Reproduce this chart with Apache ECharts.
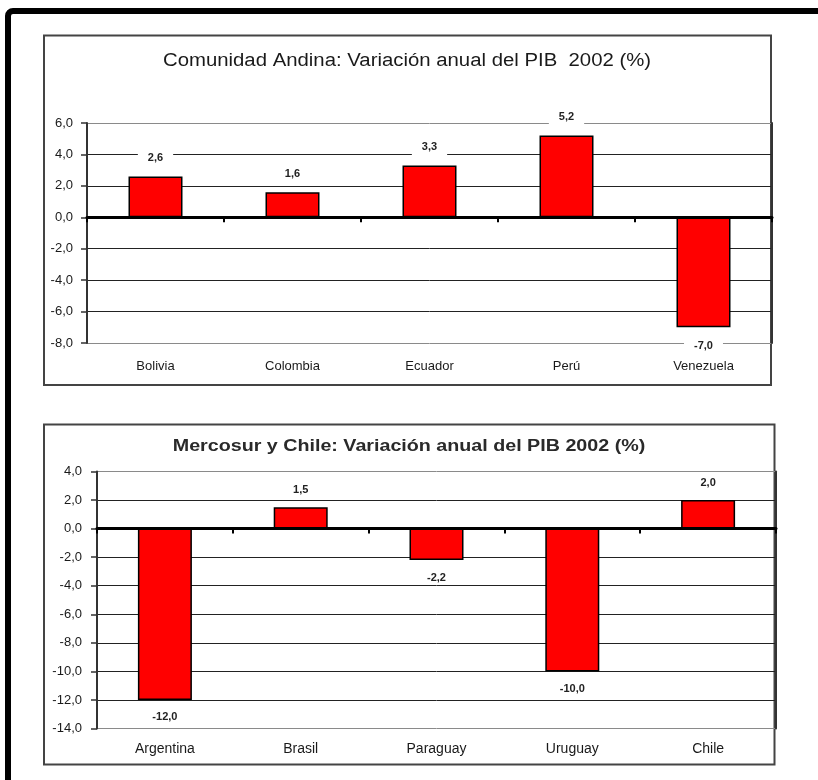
<!DOCTYPE html>
<html>
<head>
<meta charset="utf-8">
<script src="https://cdn.jsdelivr.net/npm/echarts@6/dist/echarts.min.js"></script>
<style>
  html, body { margin: 0; padding: 0; background: #fff; }
  #chart { width: 818px; height: 780px; }
</style>
</head>
<body>
<div id="chart"></div>
<script>
// Comunidad Andina: GDP change 2002 (%)
const andinaCategories = ['Bolivia', 'Colombia', 'Ecuador', 'Perú', 'Venezuela'];
const andinaValues = [2.6, 1.6, 3.3, 5.2, -7.0];
const andinaTicks = [-8, -6, -4, -2, 0, 2, 4, 6];
const andinaTitle = 'Comunidad Andina: Variación anual del PIB  2002 (%)';

// Mercosur and Chile: GDP change 2002 (%)
const mercoCategories = ['Argentina', 'Brasil', 'Paraguay', 'Uruguay', 'Chile'];
const mercoValues = [-12.0, 1.5, -2.2, -10.0, 2.0];
const mercoTicks = [-14, -12, -10, -8, -6, -4, -2, 0, 2, 4];
const mercoTitle = 'Mercosur y Chile: Variación anual del PIB 2002 (%)';

const FONT = '"Liberation Sans", Arial, sans-serif';
const comma = v => Number(v).toFixed(1).replace('.', ',');

// grid line shades: outer lines lighter, inner lines dark
function lineShades(ticks) {
  return ticks.map((t, i) => (i === 0 || i === ticks.length - 1) ? '#8a8a8a' : '#222');
}

function valueAxes(gridIndex, ticks, labelMargin) {
  const base = {
    type: 'value',
    gridIndex: gridIndex,
    min: ticks[0],
    max: ticks[ticks.length - 1],
    interval: ticks[1] - ticks[0]
  };
  return [
    Object.assign({}, base, {
      position: 'left',
      axisLine: { show: true, lineStyle: { color: '#333', width: 2 } },
      axisTick: { show: true, length: 6, lineStyle: { color: '#333', width: 1.5 } },
      axisLabel: { formatter: comma, fontFamily: FONT, fontSize: 13, color: '#1a1a1a', margin: labelMargin },
      splitLine: { show: true, lineStyle: { color: lineShades(ticks), width: 1 } }
    }),
    Object.assign({}, base, {
      position: 'right',
      axisLine: { show: true, onZero: false, lineStyle: { color: '#333', width: 2 } },
      axisTick: { show: false },
      axisLabel: { show: false },
      splitLine: { show: false }
    })
  ];
}

function categoryAxes(gridIndex, cats, labelMargin, labelSize) {
  return [
    {
      type: 'category', gridIndex: gridIndex, data: cats, z: 10,
      axisLine: { show: true, onZero: true, lineStyle: { color: '#000', width: 3 } },
      axisTick: { show: true, length: 5, lineStyle: { color: '#000', width: 2 } },
      axisLabel: { show: false },
      splitLine: { show: false }
    },
    {
      type: 'category', gridIndex: gridIndex, data: cats, position: 'bottom',
      axisLine: { show: false, onZero: false },
      axisTick: { show: false },
      axisLabel: { fontFamily: FONT, fontSize: labelSize, color: '#1a1a1a', margin: labelMargin },
      splitLine: { show: false }
    }
  ];
}

function barData(values) {
  return values.map(v => ({ value: v, label: { position: v < 0 ? 'bottom' : 'top' } }));
}

const barStyle = { color: '#ff0000', borderColor: '#000', borderWidth: 1.5 };

const chart = echarts.init(document.getElementById('chart'), null, { renderer: 'canvas' });

chart.setOption({
  backgroundColor: '#fff',
  animation: false,
  graphic: [
    // page frame
    { type: 'rect', z: 0, shape: { x: 8, y: 11, width: 900, height: 900, r: 5 },
      style: { fill: 'none', stroke: '#000', lineWidth: 6 } },
    // panel boxes
    { type: 'rect', z: 0, shape: { x: 44, y: 35.5, width: 727, height: 349.5 },
      style: { fill: 'none', stroke: '#444', lineWidth: 2 } },
    { type: 'rect', z: 0, shape: { x: 44, y: 424.5, width: 730.5, height: 340 },
      style: { fill: 'none', stroke: '#444', lineWidth: 2 } },
    // panel titles
    { type: 'text', x: 407, y: 61, scaleX: 1.13, z: 5,
      style: { text: andinaTitle, textAlign: 'center', textVerticalAlign: 'middle',
               font: '18px "Liberation Sans Narrow", "Liberation Sans", sans-serif', fill: '#1a1a1a' } },
    { type: 'text', x: 409, y: 447, scaleX: 1.23, z: 5,
      style: { text: mercoTitle, textAlign: 'center', textVerticalAlign: 'middle',
               font: 'bold 16px "Liberation Sans", sans-serif', fill: '#2a2a2a' } }
  ],
  grid: [
    { left: 87, right: 46, top: 123, height: 220 },
    { left: 97, right: 42, top: 471.5, height: 257 }
  ],
  xAxis: [].concat(
    categoryAxes(0, andinaCategories, 17, 13),
    categoryAxes(1, mercoCategories, 14, 14)
  ),
  yAxis: [].concat(
    valueAxes(0, andinaTicks, 14),
    valueAxes(1, mercoTicks, 15)
  ),
  series: [
    {
      type: 'bar', xAxisIndex: 0, yAxisIndex: 0, barWidth: 54,
      data: barData(andinaValues),
      itemStyle: barStyle,
      label: {
        show: true, formatter: p => comma(p.value), distance: 8,
        fontFamily: FONT, fontSize: 11, fontWeight: 'bold', color: '#222',
        backgroundColor: '#fff', padding: [5, 10]
      }
    },
    {
      type: 'bar', xAxisIndex: 2, yAxisIndex: 2, barWidth: 54,
      data: barData(mercoValues),
      itemStyle: barStyle,
      label: {
        show: true, formatter: p => comma(p.value), distance: 12,
        fontFamily: FONT, fontSize: 11, fontWeight: 'bold', color: '#222'
      }
    }
  ]
});
</script>
</body>
</html>
